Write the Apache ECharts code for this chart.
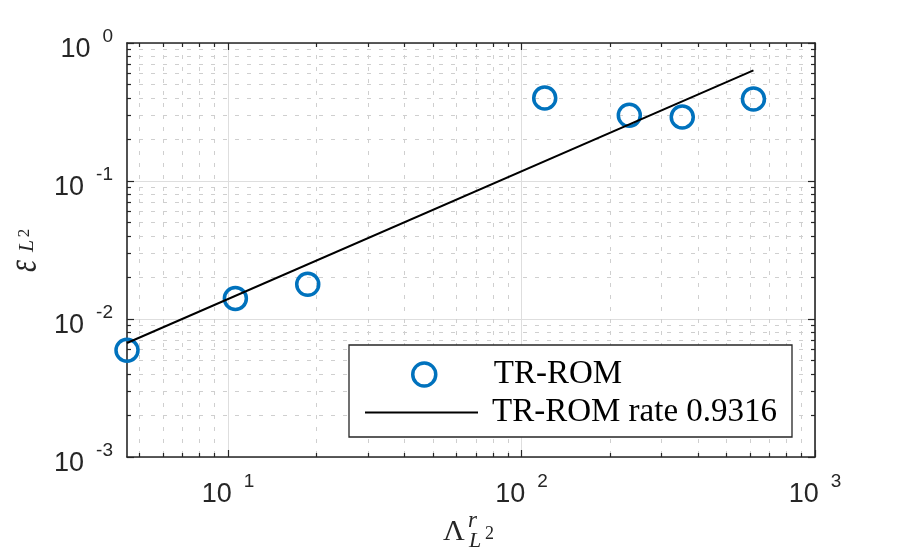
<!DOCTYPE html>
<html><head><meta charset="utf-8">
<script src="https://cdn.jsdelivr.net/npm/echarts@6/dist/echarts.min.js"></script>
<style>html,body{margin:0;padding:0;background:#fff}#c{width:900px;height:558px}</style>
</head><body><div id="c"></div>
<script>
// ---- data ----
const lambdaR = [4.53, 10.6, 18.7, 120, 233, 353, 617];
const errL2 = [0.00593, 0.01406, 0.01783, 0.3995, 0.299, 0.291, 0.393];
const rateX = [4.53, 617];
const rateY = [0.0067, 0.634];
const seriesNames = ['TR-ROM', 'TR-ROM rate 0.9316'];
// ---- axes ----
const xLimits = [4.53, 1000];
const yLimits = [0.001, 1];
const xMajorTicks = [10, 100, 1000];
const xMinorTicks = [5, 6, 7, 8, 9, 20, 30, 40, 50, 60, 70, 80, 90, 200, 300, 400, 500, 600, 700, 800, 900];
const yMajorTicks = [0.001, 0.01, 0.1, 1];
const yMinorTicks = [0.002, 0.003, 0.004, 0.005, 0.006, 0.007, 0.008, 0.009,
  0.02, 0.03, 0.04, 0.05, 0.06, 0.07, 0.08, 0.09,
  0.2, 0.3, 0.4, 0.5, 0.6, 0.7, 0.8, 0.9];

const AX = '#262626';
const BLUE = '#0072BD';
const labelRich = {
  b: {fontFamily: 'Liberation Sans', fontSize: 27, color: AX, lineHeight: 40, verticalAlign: 'bottom'},
  e: {fontFamily: 'Liberation Sans', fontSize: 19, color: AX, lineHeight: 19, verticalAlign: 'top', padding: [4, 0, 0, 12]}
};
function powLabel(v) {
  const e = Math.round(Math.log10(v));
  return '{b|10}{e|' + e + '}';
}
function makeAxis(dim, pos, limits, major, minor, isMinor, showLabel, showGrid) {
  return {
    type: 'log', logBase: 10, position: pos, min: limits[0], max: limits[1],
    gridIndex: 0,
    axisLine: {show: !isMinor, onZero: false, lineStyle: {color: AX, width: 1.6}},
    axisTick: {show: true, inside: true, length: isMinor ? 4 : 7, customValues: isMinor ? minor : major,
      lineStyle: {color: AX, width: 1.2}},
    axisLabel: {show: showLabel, customValues: major, formatter: powLabel, rich: labelRich,
      margin: dim === 'x' ? 11 : 14, showMinLabel: true, showMaxLabel: true},
    splitLine: {show: showGrid, lineStyle: isMinor ? {color: '#cfcfcf', width: 1, type: [4, 8]} : {color: '#dedede', width: 1}},
    minorTick: {show: false}, minorSplitLine: {show: false}
  };
}

const chart = echarts.init(document.getElementById('c'), null, {renderer: 'canvas'});
chart.setOption({
  backgroundColor: '#fff',
  animation: false,
  grid: {left: 127, right: 85, top: 43, bottom: 101, containLabel: false},
  xAxis: [
    makeAxis('x', 'bottom', xLimits, xMajorTicks, xMinorTicks, false, true, true),
    makeAxis('x', 'bottom', xLimits, xMajorTicks, xMinorTicks, true, false, true),
    makeAxis('x', 'top', xLimits, xMajorTicks, xMinorTicks, false, false, false),
    makeAxis('x', 'top', xLimits, xMajorTicks, xMinorTicks, true, false, false)
  ],
  yAxis: [
    makeAxis('y', 'left', yLimits, yMajorTicks, yMinorTicks, false, true, true),
    makeAxis('y', 'left', yLimits, yMajorTicks, yMinorTicks, true, false, true),
    makeAxis('y', 'right', yLimits, yMajorTicks, yMinorTicks, false, false, false),
    makeAxis('y', 'right', yLimits, yMajorTicks, yMinorTicks, true, false, false)
  ],
  legend: [
    {data: [{name: seriesNames[0], icon: 'circle',
        itemStyle: {color: 'transparent', borderColor: BLUE, borderWidth: 3.5, opacity: 1}}],
     left: 411, top: 358, padding: 0, itemWidth: 23, itemHeight: 23, z: 10, selectedMode: false,
     textStyle: {fontFamily: 'Liberation Serif', fontSize: 33, color: '#000', lineHeight: 30, padding: [0, 0, 0, 53]}},
    {data: [{name: seriesNames[1], icon: 'rect', itemStyle: {color: '#000'}}],
     left: 365, top: 396, padding: 0, itemWidth: 113, itemHeight: 2, z: 10, selectedMode: false,
     textStyle: {fontFamily: 'Liberation Serif', fontSize: 33, color: '#000', lineHeight: 30, padding: [0, 0, 0, 9]}}
  ],
  graphic: [
    {type: 'rect', z: 5, shape: {x: 349, y: 345, width: 443, height: 92},
     style: {fill: '#fff', stroke: AX, lineWidth: 1.3}},
    {type: 'text', z: 6, x: 443, y: 532, style: {text: 'Λ', font: '30px "Liberation Serif"', fill: AX, verticalAlign: 'middle'}},
    {type: 'text', z: 6, x: 468, y: 521, style: {text: 'r', font: 'italic 23px "Liberation Serif"', fill: AX, verticalAlign: 'middle'}},
    {type: 'text', z: 6, x: 469, y: 541, style: {text: 'L', font: 'italic 22px "Liberation Serif"', fill: AX, verticalAlign: 'middle'}},
    {type: 'text', z: 6, x: 485, y: 534, style: {text: '2', font: '18px "Liberation Serif"', fill: AX, verticalAlign: 'middle'}},
    {type: 'text', z: 6, x: 24.5, y: 266, rotation: Math.PI / 2, scaleX: 0.72,
     style: {text: 'ε', font: 'italic 42px "Liberation Serif"', fill: AX, align: 'center', verticalAlign: 'middle'}},
    {type: 'text', z: 6, x: 27, y: 246, rotation: Math.PI / 2, style: {text: 'L', font: 'italic 22px "Liberation Serif"', fill: AX, align: 'center', verticalAlign: 'middle'}},
    {type: 'text', z: 6, x: 25, y: 233, rotation: Math.PI / 2, style: {text: '2', font: '17px "Liberation Serif"', fill: AX, align: 'center', verticalAlign: 'middle'}}
  ],
  series: [
    {name: seriesNames[0], type: 'scatter', xAxisIndex: 0, yAxisIndex: 0, z: 3,
     data: lambdaR.map((x, i) => [x, errL2[i]]), symbol: 'circle', symbolSize: 22,
     itemStyle: {color: 'transparent', borderColor: BLUE, borderWidth: 3.5, opacity: 1}},
    {name: seriesNames[1], type: 'line', xAxisIndex: 0, yAxisIndex: 0, z: 4,
     data: rateX.map((x, i) => [x, rateY[i]]), symbol: 'none',
     lineStyle: {color: '#000', width: 2}}
  ]
});
</script></body></html>
